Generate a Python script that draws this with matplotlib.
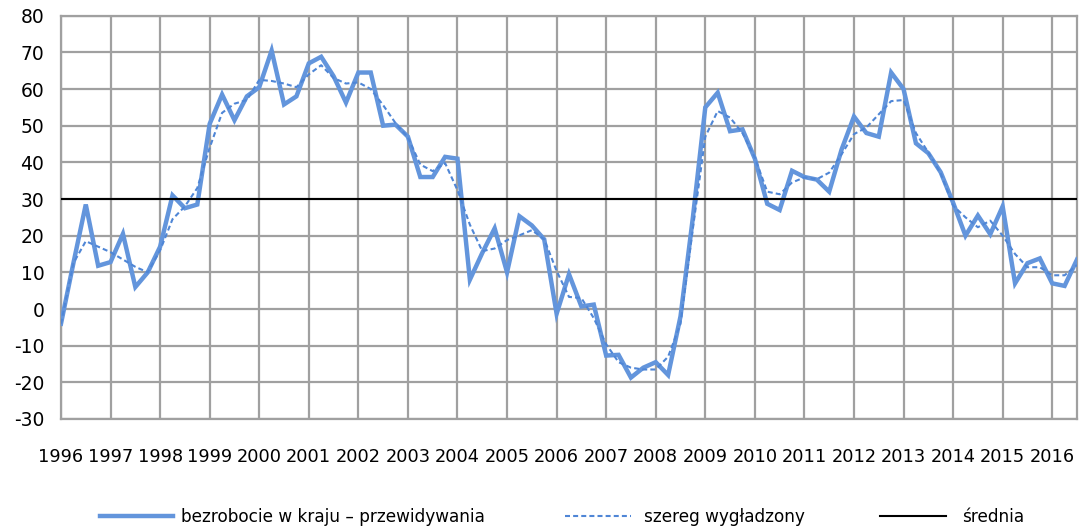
import matplotlib
matplotlib.use("Agg")
import matplotlib.pyplot as plt
import numpy as np

plt.rcParams["axes.unicode_minus"] = False

# quarterly data 1996Q1 - 2016Q3
years = list(range(1996, 2017))
main_series = [
    -4, 12.5, 28.5, 11.8, 12.8, 20.5, 6, 10,
    17, 31, 27.5, 28.5, 50.5, 58.5, 51.5, 58,
    60.5, 70.5, 55.8, 58, 67, 68.8, 63.5, 56.3,
    64.5, 64.5, 50, 50.3, 47, 36, 36, 41.5,
    41, 8, 15.3, 22, 10, 25.3, 22.8, 19,
    -1.3, 9.5, 0.7, 1.2, -12.7, -12.5, -18.7, -16,
    -14.5, -18, -2, 25, 55, 59, 48.5, 49,
    41, 28.7, 27, 37.7, 36, 35.3, 32, 43.5,
    52.5, 48, 47, 64.5, 60, 45.2, 42.5, 37.3,
    29, 20, 25.5, 20.4, 28, 7, 12.5, 13.8,
    7, 6.3, 13.5,
]
smoothed = [
    -4, 12.5, 18.5, 17, 15.5, 13.5, 11.5, 10,
    16, 24.5, 28, 33, 44, 53.5, 56, 57,
    62.5, 62.2, 61.5, 60.5, 64, 66.5, 63, 61.5,
    61.8, 60, 55.6, 50.7, 46.8, 39.4, 37.6, 39.8,
    32.4, 23, 15.8, 16.5, 18.8, 20.1, 21.5, 19,
    10.4, 3.3, 3, -2.5, -9.6, -14.5, -16, -16.5,
    -16.5, -13, -4, 22, 47, 54, 52.2, 48,
    41.3, 32, 31.3, 34.5, 35.9, 35.4, 37.2, 42.2,
    47.7, 49.5, 53.1, 56.7, 57, 48, 42.7, 37,
    28.2, 25, 22.3, 24.1, 20, 15, 11.4, 11.4,
    9.2, 9.2, 12,
]
mean_value = 30
labels = ["bezrobocie w kraju \u2013 przewidywania", "szereg wyg\u0142adzony", "\u015brednia"]

x = np.arange(len(main_series))
grid_col = "#a0a0a0"
blue = "#6395dc"

fig = plt.figure(figsize=(10.8, 5.32), dpi=100)
ax = fig.add_axes([61/1080, 1-419/532, (1077-61)/1080, (419-15.7)/532])

l1, = ax.plot(x, main_series, color=blue, lw=3.2, solid_joinstyle="miter", zorder=3)
l2, = ax.plot(x, smoothed, color="#4f86d6", lw=1.5, dashes=(2.4, 1.5), zorder=4)
l3 = ax.axhline(mean_value, color="black", lw=1.5, zorder=5)

ax.set_xlim(0, len(main_series) - 1)
ax.set_ylim(-30, 80)
ax.set_yticks(np.arange(-30, 81, 10))
ax.set_xticks(np.arange(0, len(main_series), 4))
ax.set_xticklabels([str(y) for y in years])
ax.grid(True, color=grid_col, lw=1.6, zorder=0)
ax.set_axisbelow(True)
for s in ax.spines.values():
    s.set_color(grid_col)
    s.set_linewidth(1.6)
ax.tick_params(axis="both", length=0)
ax.tick_params(axis="y", labelsize=13.5, pad=12)
ax.tick_params(axis="x", labelsize=12.8, pad=21)

handles = [l1, l2, l3]
anchors = [100/1080, 565/1080, 880/1080]
hlens = [4.3, 3.9, 3.9]
pads = [0.5, 0.75, 0.95]
for h, lab, ax0, hl, tp in zip(handles, labels, anchors, hlens, pads):
    fig.legend([h], [lab], loc="center left", bbox_to_anchor=(ax0, 15/532),
               frameon=False, fontsize=12.2, handlelength=hl,
               handletextpad=tp, borderpad=0, borderaxespad=0)

fig.savefig("out.png", dpi=100)
